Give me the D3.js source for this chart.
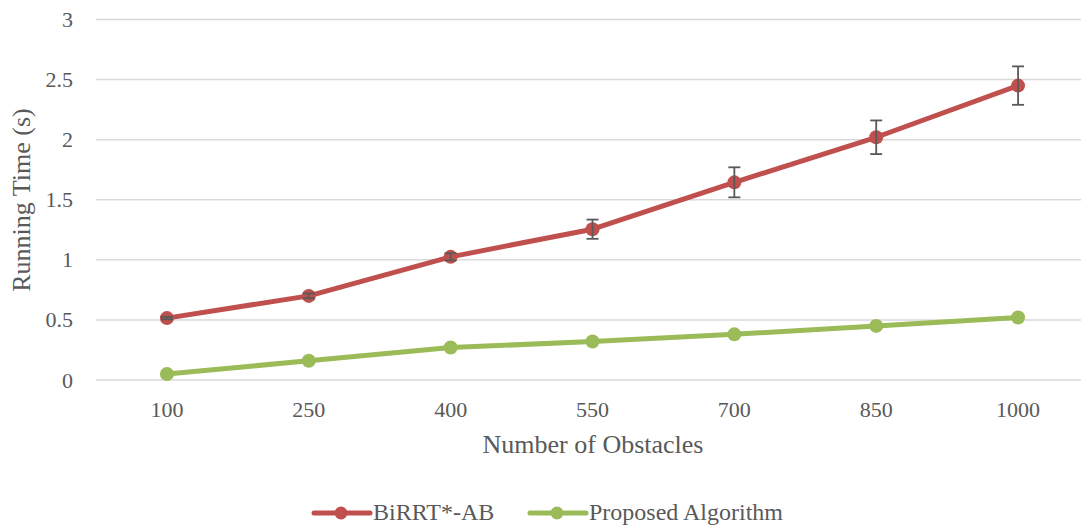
<!DOCTYPE html>
<html><head><meta charset="utf-8">
<script src="https://cdn.jsdelivr.net/npm/d3@7"></script>
<style>body{margin:0;background:#fff}svg{display:block}</style>
</head><body>
<svg id="c" width="1081" height="527"></svg>
<script>
const categories = ["100","250","400","550","700","850","1000"];
const birrtValues = [0.515, 0.70, 1.025, 1.255, 1.645, 2.02, 2.45];
const birrtErrors = [0.01, 0.02, 0.03, 0.08, 0.125, 0.14, 0.16];
const proposedValues = [0.05, 0.16, 0.27, 0.32, 0.38, 0.45, 0.52];
const yTicks = [0, 0.5, 1, 1.5, 2, 2.5, 3];
const seriesNames = ["BiRRT*-AB", "Proposed Algorithm"];
const seriesColors = ["#C0504D", "#9BBB59"];

const FONT = "Liberation Serif";
const TXT = "#595959";
const svg = d3.select("#c");
const x = d3.scaleBand().domain(categories).range([96, 1089]);
const y = d3.scaleLinear().domain([0, 3]).range([380, 19.5]);
const cx = d => x(d) + x.bandwidth() / 2;

// gridlines
svg.append("g").selectAll("line").data(yTicks).join("line")
  .attr("x1", 96).attr("x2", 1081)
  .attr("y1", d => y(d)).attr("y2", d => y(d))
  .attr("stroke", "#D9D9D9").attr("stroke-width", 1.5);

// y tick labels
svg.append("g").selectAll("text").data(yTicks).join("text")
  .attr("x", 73).attr("y", d => y(d) + 7.5)
  .attr("text-anchor", "end").attr("font-size", 22)
  .attr("font-family", FONT).attr("fill", TXT)
  .text(d => d);

// x tick labels
svg.append("g").selectAll("text").data(categories).join("text")
  .attr("x", d => cx(d)).attr("y", 416.5)
  .attr("text-anchor", "middle").attr("font-size", 22)
  .attr("font-family", FONT).attr("fill", TXT)
  .text(d => d);

// axis titles
svg.append("text").attr("x", 593).attr("y", 453)
  .attr("text-anchor", "middle").attr("font-size", 26)
  .attr("font-family", FONT).attr("fill", TXT).text("Number of Obstacles");
svg.append("text").attr("transform", "translate(30,200) rotate(-90)")
  .attr("text-anchor", "middle").attr("font-size", 26)
  .attr("font-family", FONT).attr("fill", TXT).text("Running Time (s)");

const line = d3.line().x(d => cx(d.c)).y(d => y(d.v));
const series = [
  {name: seriesNames[0], color: seriesColors[0], data: categories.map((c, i) => ({c, v: birrtValues[i], e: birrtErrors[i]}))},
  {name: seriesNames[1], color: seriesColors[1], data: categories.map((c, i) => ({c, v: proposedValues[i], e: 0}))}
];

series.forEach(s => {
  svg.append("path").datum(s.data).attr("d", line)
    .attr("fill", "none").attr("stroke", s.color).attr("stroke-width", 5).attr("stroke-linejoin", "round");
  svg.append("g").selectAll("circle").data(s.data).join("circle")
    .attr("cx", d => cx(d.c)).attr("cy", d => y(d.v)).attr("r", 7).attr("fill", s.color);
});

// error bars
const eb = svg.append("g").attr("stroke", "#595959").attr("stroke-width", 1.8);
series[0].data.forEach(d => {
  const X = cx(d.c);
  eb.append("line").attr("x1", X).attr("x2", X).attr("y1", y(d.v + d.e)).attr("y2", y(d.v - d.e));
  eb.append("line").attr("x1", X - 6).attr("x2", X + 6).attr("y1", y(d.v + d.e)).attr("y2", y(d.v + d.e));
  eb.append("line").attr("x1", X - 6).attr("x2", X + 6).attr("y1", y(d.v - d.e)).attr("y2", y(d.v - d.e));
});

// legend
const lg = svg.append("g");
const legendX = [314, 530];
series.forEach((s, i) => {
  const g = lg.append("g").attr("transform", `translate(${legendX[i]},513)`);
  g.append("line").attr("x1", 0).attr("x2", 56).attr("stroke", s.color).attr("stroke-width", 5).attr("stroke-linecap", "round");
  g.append("circle").attr("cx", 27).attr("r", 6.5).attr("fill", s.color);
  g.append("text").attr("x", 59).attr("y", 6.5).attr("font-size", 24)
    .attr("font-family", FONT).attr("fill", TXT).text(s.name);
});
</script>
</body></html>
